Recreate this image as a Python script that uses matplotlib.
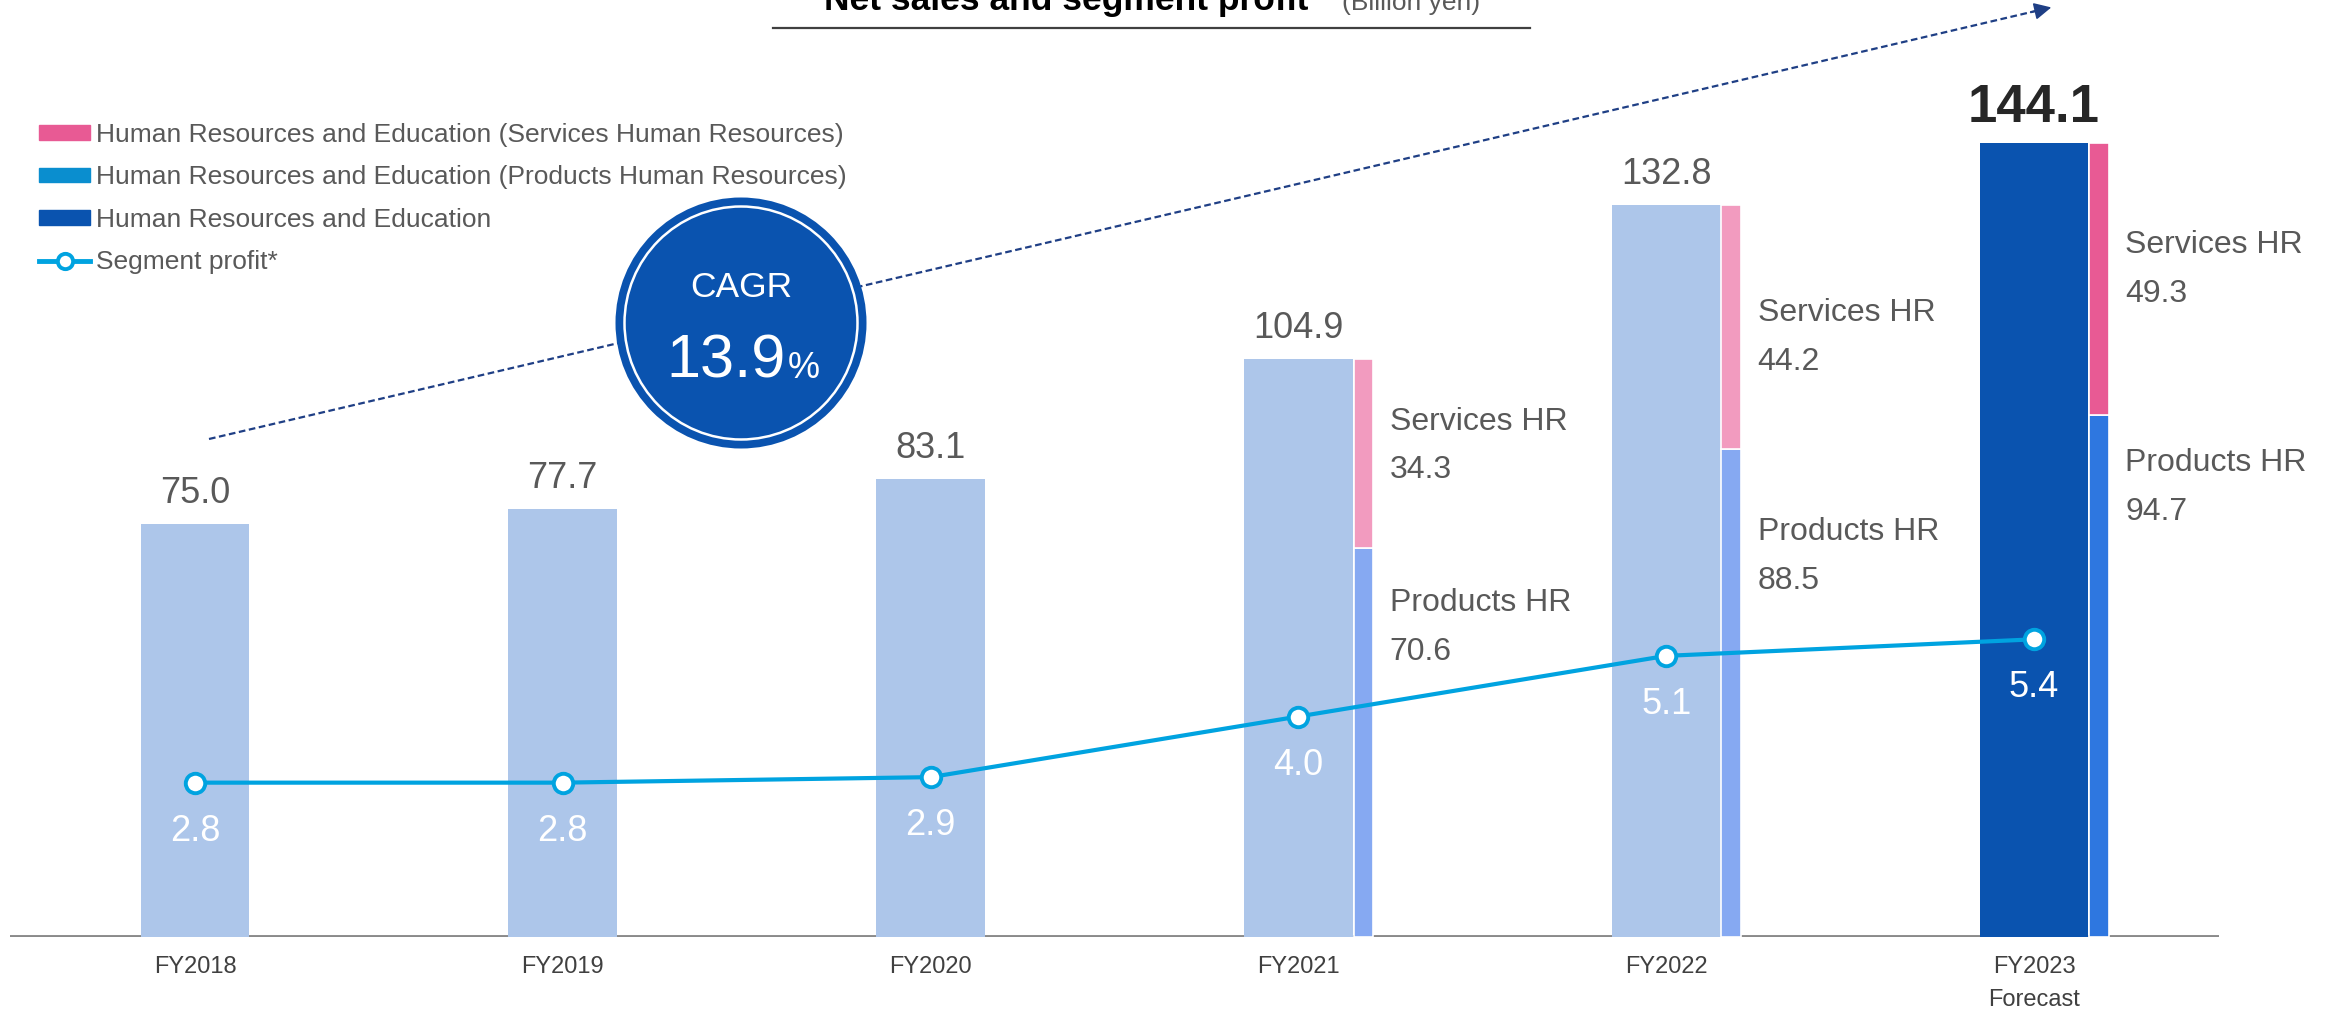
import matplotlib
matplotlib.use("Agg")
import matplotlib.pyplot as plt
import numpy as np
from matplotlib.lines import Line2D
from matplotlib.patches import Ellipse, FancyArrowPatch, Patch

plt.rcParams["font.family"] = ["Liberation Sans", "DejaVu Sans"]

# data (billion yen)
years = ["FY2018", "FY2019", "FY2020", "FY2021", "FY2022", "FY2023\nForecast"]
net_sales = [75.0, 77.7, 83.1, 104.9, 132.8, 144.1]
split_years = ["FY2021", "FY2022", "FY2023\nForecast"]
products_hr = [70.6, 88.5, 94.7]
services_hr = [34.3, 44.2, 49.3]
segment_profit = [2.8, 2.8, 2.9, 4.0, 5.1, 5.4]
cagr_text = "13.9"

legend_labels = [
    "Human Resources and Education (Services Human Resources)",
    "Human Resources and Education (Products Human Resources)",
    "Human Resources and Education",
    "Segment profit*",
]

LIGHT = "#adc6ea"
DARK = "#0a53af"
PINK_L = "#f29bbf"
PINK = "#e85a94"
PROD_L = "#86a9f2"
PROD = "#2e77e0"
CYAN = "#00a3e0"
GREY_TXT = "#595959"
NAVY = "#1f3f85"

W, H = 2336, 1011
fig = plt.figure(figsize=(W / 100, H / 100), dpi=100)


def fx(px):
    return px / W


def fy(py):
    return 1 - py / H


ax = fig.add_axes([fx(10), 74 / H, 2209 / W, 882 / H])
ax.set_xlim(-0.503, 5.503)
ax.set_ylim(0, 160)
for s in ax.spines.values():
    s.set_visible(False)
ax.set_yticks([])

x = np.arange(len(years))
bw = 0.296
sw = 0.053
main_colors = [LIGHT] * (len(years) - 1) + [DARK]
ax.bar(x, net_sales, width=bw, color=main_colors, zorder=2)
ax.axhline(0, color="#8a8a8a", lw=2.8, zorder=1)

idx = [years.index(y) for y in split_years]
sx = x[idx] + bw / 2 + sw / 2 + 0.002
prod_colors = [PROD_L, PROD_L, PROD]
serv_colors = [PINK_L, PINK_L, PINK]
ax.bar(sx, products_hr, width=sw, color=prod_colors, edgecolor="white", linewidth=1.2, zorder=2)
ax.bar(sx, services_hr, width=sw, bottom=products_hr, color=serv_colors,
       edgecolor="white", linewidth=1.2, zorder=2)

# totals above bars
for i, v in enumerate(net_sales):
    last = i == len(net_sales) - 1
    ax.annotate(f"{v:.1f}", (x[i], v), xytext=(0, 15), textcoords="offset points",
                ha="center", va="baseline",
                fontsize=38 if last else 26,
                fontweight="bold" if last else "normal",
                color="#262626" if last else GREY_TXT)

# side labels: name above, value below an anchor near each segment
serv_shift = [1.3, -1.9, 1.7]
prod_shift = [-14.5, -19.5, -13.2]
for k, (xi, p, s) in enumerate(zip(sx, products_hr, services_hr)):
    lx = xi + sw / 2
    ys = p + s / 2 + serv_shift[k]
    yp = p + prod_shift[k]
    for yc, name, val in ((ys, "Services HR", s), (yp, "Products HR", p)):
        ax.annotate(name, (lx, yc), xytext=(12, 17.5), textcoords="offset points",
                    ha="left", va="center", fontsize=23, color=GREY_TXT)
        ax.annotate(f"{val:.1f}", (lx, yc), xytext=(12, -17.5), textcoords="offset points",
                    ha="left", va="center", fontsize=23, color=GREY_TXT)

ax.set_xticks(x, years)
ax.tick_params(axis="x", length=0, pad=14, labelsize=17, labelcolor="#404040")
for lbl in ax.get_xticklabels():
    lbl.set_linespacing(1.6)

# segment profit line on its own scale
ax2 = ax.twinx()
ax2.set_ylim(0, 16)
for s in ax2.spines.values():
    s.set_visible(False)
ax2.set_yticks([])
ax2.plot(x, segment_profit, color=CYAN, lw=3, marker="o", ms=14,
         mfc="white", mec=CYAN, mew=2.8, zorder=3)
for xi, v in zip(x, segment_profit):
    ax2.annotate(f"{v:.1f}", (xi, v), xytext=(0, -35), textcoords="offset points",
                 ha="center", va="center", fontsize=26, color="white")

# legend
handles = [
    Patch(color=PINK),
    Patch(color="#0a8ecf"),
    Patch(color=DARK),
    Line2D([], [], color=CYAN, lw=3.5, marker="o", ms=11, mfc="white", mec=CYAN, mew=2.8),
]
fig.legend(handles, legend_labels, loc="upper left", bbox_to_anchor=(fx(39), fy(123)),
           frameon=False, fontsize=19, labelcolor=GREY_TXT, handlelength=1.95,
           handleheight=0.46, handletextpad=0.22, labelspacing=0.7, borderpad=0,
           borderaxespad=0)

# title
fig.text(fx(824), fy(10), "Net sales and segment profit", fontsize=25.5,
         fontweight="bold", ha="left", va="baseline", color="black")
fig.text(fx(1342), fy(10), "(Billion yen)", fontsize=19, ha="left", va="baseline",
         color=GREY_TXT)
fig.add_artist(Line2D([fx(773), fx(1530)], [fy(28), fy(28)], color="#404040", lw=1.6))

# growth arrow
fig.add_artist(Line2D([fx(209), fx(2040)], [fy(439), fy(10)], color=NAVY, lw=1.6,
                      linestyle=(0, (3, 1.6))))
fig.add_artist(FancyArrowPatch((fx(2028), fy(12.8)), (fx(2054), fy(6.8)),
                               transform=fig.transFigure, arrowstyle="-|>",
                               mutation_scale=26, color=NAVY, lw=1.2))

# CAGR badge
fig.add_artist(Ellipse((fx(741), fy(323)), 251 / W, 251 / H, transform=fig.transFigure,
                       facecolor=DARK, edgecolor="none", zorder=5))
fig.add_artist(Ellipse((fx(741), fy(323)), 233 / W, 233 / H, transform=fig.transFigure,
                       facecolor="none", edgecolor="white", lw=1.8, zorder=6))
fig.text(fx(741), fy(287), "CAGR", fontsize=25.5, color="white", ha="center",
         va="center", zorder=7)
fig.text(fx(786), fy(378), cagr_text, fontsize=44, color="white", ha="right",
         va="baseline", zorder=7)
fig.text(fx(788), fy(378), "%", fontsize=26, color="white", ha="left",
         va="baseline", zorder=7)

fig.savefig("out.png", dpi=100)
